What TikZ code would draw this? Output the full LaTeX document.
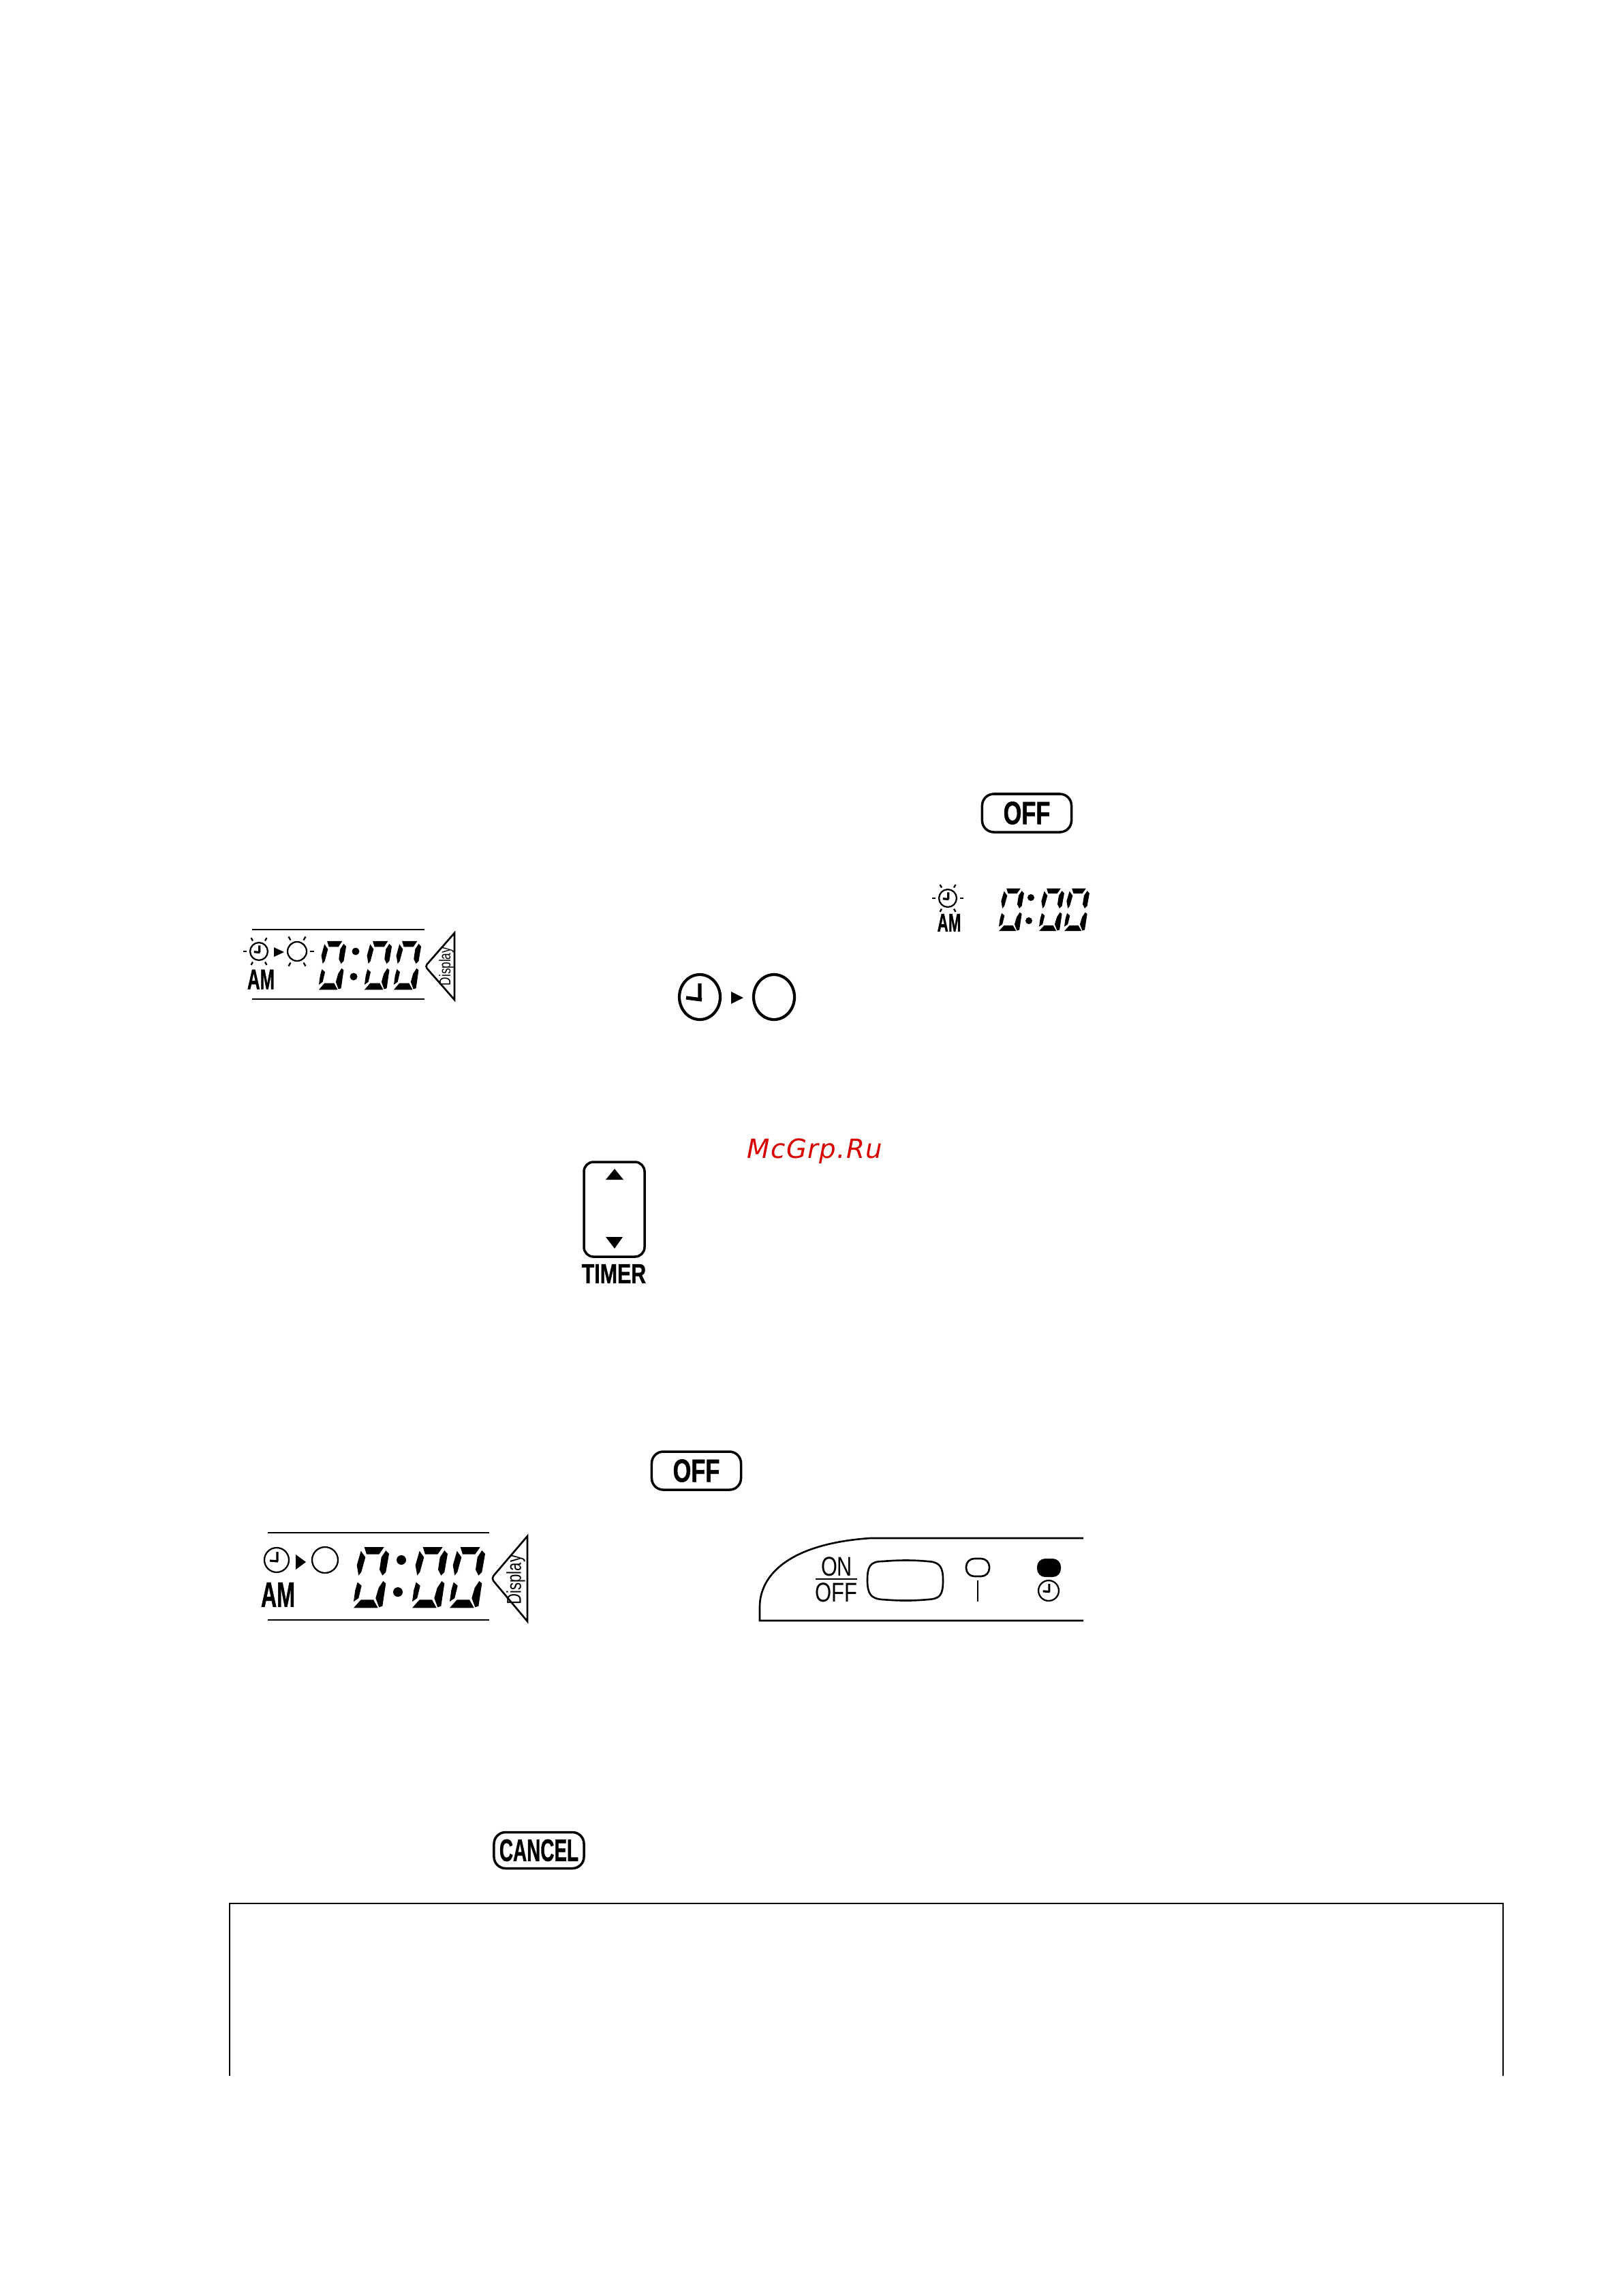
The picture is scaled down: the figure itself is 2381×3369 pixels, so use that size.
\documentclass[tikz,border=0pt]{standalone}
\usepackage{fontspec}
\setmainfont[BoldFeatures={FakeBold=1.2}]{Liberation Sans}
\newfontfamily\wmfont[LetterSpace=3.5]{DejaVu Sans}
\newcommand{\sz}[1]{\fontsize{#1}{#1}\selectfont}

\tikzset{
    rule/.style={line width=0.75pt},
    dial/.style={line width=0.65pt},
    keycap/.style={draw, line width=1pt, rounded corners=0.17cm},
    legend/.style={inner sep=0pt, transform shape},
    pics/lcddigit/.style={code={
        \fill (15.7, 1) -- (44.7, 1) -- (37.3, 11.7) -- (19, 11.7) -- cycle;
        \fill (10.7, 6.7) -- (17.3, 16) -- (11.3, 37.7) -- (7.3, 42.7) -- (4.7, 27.7) -- cycle;
        \fill (47.3, 6) -- (52, 11) -- (47.3, 37.7) -- (42.3, 42.7) -- (38, 34) -- (40.7, 16) -- cycle;
        \fill (5.7, 52.7) -- (11.7, 57.7) -- (7.3, 76) -- (0, 81) -- (2.3, 64.3) -- cycle;
        \fill (43.3, 51) -- (47.3, 54.3) -- (42.3, 87.7) -- (37.3, 89.3) -- (32.3, 76) -- (36.7, 61) -- cycle;
        \fill (10.7, 78.3) -- (29, 78.3) -- (35.7, 90.3) -- (0, 90.3) -- cycle;
    }},
    pics/clockhands/.style={code={
        \draw [dial] (0, 0) circle (18);
        \draw [line width=0.9pt] (1, -12) -- (1, 2) (-10, 1) -- (2, 2);
    }},
}

\begin{document}
\begin{tikzpicture}[x=0.01cm, y=-0.01cm]
    \useasboundingbox (0, 0) rectangle (2381, 3369);

    % upper display
    \draw [rule] (370, 1364) -- (623, 1364);
    \draw [rule] (370, 1466) -- (623, 1466);
    \pic [scale=0.72] at (380, 1396) {clockhands};
    \foreach \ang in {60, 120, 180, 240, 300} {
        \draw [dial] (380, 1396) ++(\ang:18) -- ++(\ang:5);
    }
    \fill (402, 1390) -- (417, 1397) -- (402, 1404) -- cycle;
    \draw [dial] (436, 1396) circle (14);
    \foreach \ang in {0, 60, 120, 240, 300} {
        \draw [dial] (436, 1396) ++(\ang:19) -- ++(\ang:6);
    }
    \node (amupper) [legend, xscale=0.62] at (383, 1437) {\sz{11.8pt}\bfseries AM};
    \foreach \xd in {468, 535, 578} {
        \pic [xscale=0.77, yscale=0.8] at (\xd, 1380) {lcddigit};
    }
    \fill (522, 1396) circle (5.5);
    \fill (519, 1433) circle (5.5);
    \draw [rule] (667, 1369) [rounded corners=0.04cm] -- (624, 1418) [sharp corners] -- (667, 1467) -- cycle;
    \node (dispupper) [legend, rotate=90, xscale=0.74] at (655, 1418) {\sz{6.6pt}Display};

    % off key and small display
    \node (offupper) [keycap, minimum width=1.31cm, minimum height=0.56cm, inner sep=0pt] at (1507, 1193) {};
    \node (offuppertxt) [legend, xscale=0.73] at (1507, 1193) {\sz{13.4pt}\bfseries OFF};

    \pic [scale=0.72] at (1391, 1318) {clockhands};
    \foreach \ang in {0, 60, 120, 180, 240, 300} {
        \draw [dial] (1391, 1318) ++(\ang:18) -- ++(\ang:5);
    }
    \node (amsmall) [legend, xscale=0.6] at (1393, 1354) {\sz{10.6pt}\bfseries AM};
    \foreach \xd in {1466, 1525, 1562} {
        \pic [xscale=0.71, yscale=0.7] at (\xd, 1303) {lcddigit};
    }
    \fill (1513, 1317) circle (5);
    \fill (1510, 1351) circle (5);

    % clock arrow circle
    \draw [line width=1.2pt] (1027, 1463) ellipse (30 and 33);
    \draw [line width=1.5pt] (1027, 1443) -- (1027, 1469) (1007, 1464) -- (1030, 1467);
    \fill (1073, 1455) -- (1091, 1464) -- (1073, 1473) -- cycle;
    \draw [line width=1.2pt] (1136, 1463) ellipse (30 and 33);

    % timer key
    \node (wmark) [legend, text=red!85!black, anchor=base] at (1196, 1699) {\sz{11pt}\wmfont\itshape McGrp.Ru};
    \draw [line width=1pt, rounded corners=0.14cm] (857, 1705) rectangle (946, 1844);
    \fill (902, 1715) -- (915, 1731) -- (889, 1731) -- cycle;
    \fill (889, 1815) -- (914, 1815) -- (902, 1832) -- cycle;
    \node (timer) [legend, xscale=0.75] at (901, 1869) {\sz{11.5pt}\bfseries TIMER};

    \node (offlower) [keycap, minimum width=1.31cm, minimum height=0.56cm, inner sep=0pt] at (1022, 2158) {};
    \node (offlowertxt) [legend, xscale=0.73] at (1022, 2158) {\sz{13.4pt}\bfseries OFF};

    % lower display
    \draw [rule] (393, 2249) -- (718, 2249);
    \draw [rule] (393, 2377) -- (718, 2377);
    \pic at (406, 2289) {clockhands};
    \fill (434, 2281) -- (449, 2292) -- (434, 2303) -- cycle;
    \draw [dial] (477, 2289) circle (19);
    \node (amlower) [legend, xscale=0.62] at (408, 2340) {\sz{14.8pt}\bfseries AM};
    \foreach \xd in {519, 605, 660} {
        \pic at (\xd, 2269) {lcddigit};
    }
    \fill (589, 2289) circle (7);
    \fill (584, 2336) circle (7);
    \draw [rule] (774, 2254) [rounded corners=0.05cm] -- (721, 2316) [sharp corners] -- (774, 2379) -- cycle;
    \node (displower) [legend, rotate=90, xscale=0.75] at (757, 2318) {\sz{8.4pt}Display};

    % lamp panel
    \draw [rule] (1590, 2378) -- (1115, 2378) -- (1115, 2358) .. controls (1115, 2310) and (1160, 2265) .. (1277, 2257) -- (1590, 2257);
    \node (paneon) [legend, xscale=0.77] at (1228, 2299) {\sz{11.3pt}ON};
    \draw [rule] (1197, 2317) -- (1258, 2317);
    \node (paneoff) [legend, xscale=0.78] at (1227, 2337) {\sz{11.3pt}OFF};
    \draw [rule] (1273, 2319) .. controls (1273, 2300) and (1276, 2291) .. (1295, 2291) .. controls (1320, 2289) and (1340, 2289) .. (1362, 2291) .. controls (1380, 2292) and (1384, 2300) .. (1384, 2319) .. controls (1384, 2340) and (1380, 2346) .. (1362, 2347) .. controls (1340, 2349) and (1320, 2349) .. (1295, 2347) .. controls (1278, 2346) and (1273, 2338) .. cycle;
    \draw [rule, rounded corners=0.12cm] (1418, 2287) rectangle (1452, 2313);
    \draw [dial] (1435, 2319) -- (1435, 2350);
    \fill [rounded corners=0.12cm] (1522, 2287) rectangle (1557, 2314);
    \pic [scale=0.83] at (1539, 2334) {clockhands};

    \node (cancel) [keycap, minimum width=1.32cm, minimum height=0.53cm, inner sep=0pt] at (791, 2715) {};
    \node (canceltxt) [legend, xscale=0.61] at (791, 2715) {\sz{13pt}\bfseries CANCEL};

    \draw [line width=0.57pt] (337, 3046) -- (337, 2793) -- (2206, 2793) -- (2206, 3046);
\end{tikzpicture}
\end{document}
